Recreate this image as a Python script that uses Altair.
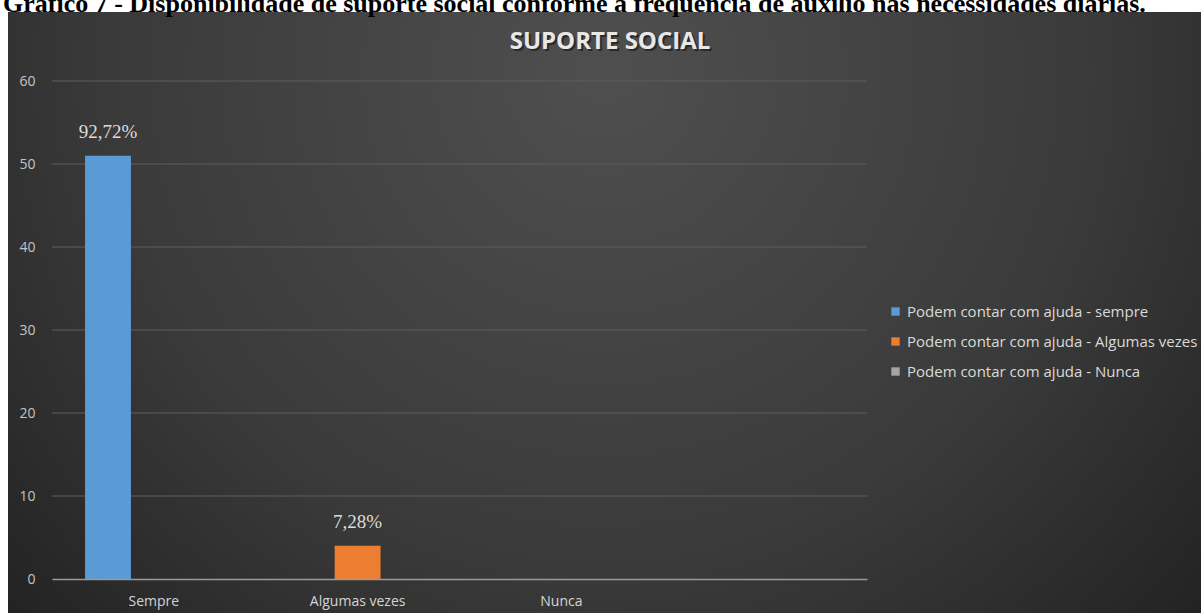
import altair as alt
import pandas as pd

categories = ["Sempre", "Algumas vezes", "Nunca"]
series = [
    "Podem contar com ajuda - sempre",
    "Podem contar com ajuda - Algumas vezes",
    "Podem contar com ajuda  - Nunca",
]
values = [51, 4, 0]
labels = ["92,72%", "7,28%", ""]
colors = ["#5B9BD5", "#ED7D31", "#A5A5A5"]
x_domain = categories + [" "]
y_ticks = [0, 10, 20, 30, 40, 50, 60]

df = pd.DataFrame({"cat": categories, "serie": series, "valor": values, "rotulo": labels})
grid_df = pd.DataFrame({"valor": [t for t in y_ticks if t > 0]})

FONT = "Open Sans"
y_scale = alt.Scale(domain=[0, 60])
y_axis = alt.Axis(title=None, values=y_ticks, ticks=False, domain=False, grid=False, zindex=1,
                  labelColor="#c4c4c4", labelFont=FONT, labelFontSize=14, labelPadding=17)

x_enc = alt.X("cat:N", scale=alt.Scale(domain=x_domain, paddingInner=0, paddingOuter=0),
              axis=alt.Axis(title=None, labelAngle=0, ticks=False, domain=True, domainColor="#9a9a9a",
                            domainWidth=1.5, labelColor="#d4d4d4", labelFont=FONT, labelFontSize=14,
                            labelPadding=15, grid=False, zindex=1))
xo_enc = alt.XOffset("serie:N", scale=alt.Scale(domain=series, paddingOuter=0.72, paddingInner=0), sort=series)
y_enc = alt.Y("valor:Q", scale=y_scale, axis=y_axis)

bg = alt.Chart(alt.Data(values=[{"k": 1}])).mark_rect(
    fill={"gradient": "radial", "x1": 0.5, "y1": 0.3, "r1": 0.0, "x2": 0.5, "y2": 0.3, "r2": 0.75,
          "stops": [{"offset": 0, "color": "#4f4f4f"}, {"offset": 0.55, "color": "#3a3a3a"},
                    {"offset": 1, "color": "#1c1c1c"}]}
).encode(x=alt.value(-44), x2=alt.value(1149), y=alt.value(-69), y2=alt.value(532))

grid = alt.Chart(grid_df).mark_rule(color="#5e5e5e", strokeWidth=1).encode(
    y=y_enc, x=alt.value(0), x2=alt.value(815))

bars = alt.Chart(df).mark_bar().encode(
    x=x_enc, xOffset=xo_enc, y=y_enc,
    color=alt.Color("serie:N", scale=alt.Scale(domain=series, range=colors), sort=series,
                    legend=alt.Legend(title=None, orient="none", legendX=836, legendY=223,
                                      symbolType="square", symbolSize=70, symbolStrokeWidth=0,
                                      labelFont=FONT, labelFontSize=15, labelColor="#dadada",
                                      rowPadding=14, labelLimit=400, labelOffset=4)),
)

txt = alt.Chart(df).transform_filter("datum.rotulo != ''").mark_text(
    font="Liberation Serif", fontSize=19, color="#dcdcdc", baseline="alphabetic", dy=-18
).encode(x=x_enc, xOffset=xo_enc, y=y_enc, text="rotulo:N")

title_shadow = alt.Chart(alt.Data(values=[{"k": 1}])).mark_text(
    font=FONT, fontSize=24, fontWeight="bold", color="#000000", opacity=0.45, align="center", baseline="middle"
).encode(x=alt.value(560), y=alt.value(-37), text=alt.value("SUPORTE SOCIAL"))
title = alt.Chart(alt.Data(values=[{"k": 1}])).mark_text(
    font=FONT, fontSize=24, fontWeight="bold", color="#e8e8e8", align="center", baseline="middle"
).encode(x=alt.value(558), y=alt.value(-39), text=alt.value("SUPORTE SOCIAL"))

caption = alt.Chart(alt.Data(values=[{"k": 1}])).mark_text(
    font="Liberation Serif", fontSize=26, fontWeight="bold", color="#000000", align="left", baseline="alphabetic"
).encode(x=alt.value(-49), y=alt.value(-69),
         text=alt.value("Gráfico 7 - Disponibilidade de suporte social conforme a frequência de auxílio nas necessidades diárias."))

chart = alt.layer(bg, grid, bars, txt, title_shadow, title, caption).properties(
    width=815, height=498,
    autosize=alt.AutoSizeParams(type="none"),
    padding={"left": 52, "top": 81, "right": 334, "bottom": 34},
    background="#ffffff",
).configure_view(stroke=None)

chart.save("out.html", embed_options={"renderer": "svg", "actions": False})
